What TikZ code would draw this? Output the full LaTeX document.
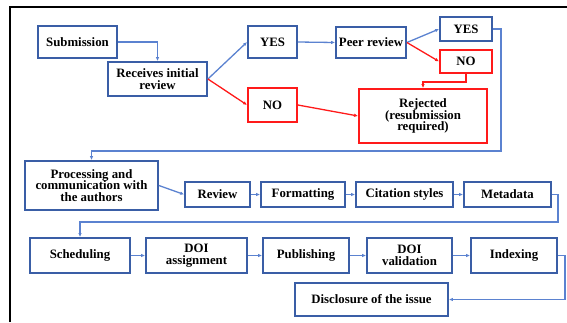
\documentclass[tikz,border=0pt]{standalone}
\usepackage{fontspec}
\setmainfont{Liberation Serif}
\newfontfamily\tnr{Liberation Serif}
\usetikzlibrary{arrows.meta}
\definecolor{boxblue}{HTML}{3A5EA6}
\definecolor{lineblue}{HTML}{5B82D0}
\definecolor{boxred}{HTML}{FF1A1A}
\tikzset{
  bx/.style={draw=boxblue, line width=1.8pt, fill=white, inner sep=1pt, align=center,
    font=\tnr\bfseries\fontsize{12.8}{11.8}\selectfont},
  rbx/.style={bx, draw=boxred},
  bl/.style={draw=lineblue, line width=1.3pt, -{Latex[length=4pt,width=3.5pt]}},
  rl/.style={draw=boxred, line width=1.3pt, -{Latex[length=4pt,width=3.5pt]}},
  sz/.style 2 args={minimum width=#1pt, minimum height=#2pt},
}
\begin{document}
\begin{tikzpicture}[x=1pt,y=-1pt]
\useasboundingbox (0,0) rectangle (567,322);
\draw[black, line width=1.5pt] (10,322) -- (10,7) -- (567,7);
% nodes
\node[bx, sz={79}{32}] (sub) at (77.5,42) {Submission};
\node[bx, sz={99}{34}] (rec) at (157.5,79) {Receives initial\\review};
\node[bx, sz={49}{32}] (yes1) at (272.5,42) {YES};
\node[rbx, sz={49}{34}] (no1) at (272.5,105) {NO};
\node[bx, sz={70}{31}] (peer) at (371,42.5) {Peer review};
\node[bx, sz={52}{24}] (yes2) at (466,29) {YES};
\node[rbx, sz={52}{23}] (no2) at (466,61.5) {NO};
\node[rbx, sz={128}{54}] (rej) at (423,116) {Rejected\\(resubmission\\required)};
\node[bx, sz={133}{49}] (proc) at (91.5,185.5) {Processing and\\communication with\\the authors};
\node[bx, sz={65}{25}] (rev) at (217.5,194.5) {Review};
\node[bx, sz={84}{25}] (fmt) at (303,194.5) {Formatting};
\node[bx, sz={97}{25}] (cit) at (404.5,194.5) {Citation styles};
\node[bx, sz={87}{25}] (meta) at (507.5,194.5) {Metadata};
\node[bx, sz={100}{35}] (sched) at (80,255.5) {Scheduling};
\node[bx, sz={101}{35}] (doia) at (196.5,255.5) {DOI\\assignment};
\node[bx, sz={86}{35}] (pub) at (306,255.5) {Publishing};
\node[bx, sz={85}{35}] (doiv) at (409.5,255.5) {DOI\\validation};
\node[bx, sz={86}{35}] (idx) at (514,255.5) {Indexing};
\node[bx, sz={153}{33}] (disc) at (371.5,299.5) {Disclosure of the issue};
% free-end coordinates
\coordinate (c1) at (501,151);
\coordinate (c2) at (558,222);
\coordinate (c3) at (565,299.5);
% connectors
\draw[bl] (sub.east) -| (rec.north);
\draw[bl] (rec.east) -- (yes1.west);
\draw[rl] (rec.east) -- (no1.west);
\draw[bl] (yes1.east) -- (peer.west);
\draw[bl] (peer.east) -- (yes2.west);
\draw[rl] (peer.east) -- (no2.west);
\draw[rl] (no2.south) -- ++(0,8) -| (rej.north);
\draw[rl] (no1.east) -- (rej.west);
\draw[bl] (yes2.east) -| (c1) -| (proc.north);
\draw[bl] (proc.east) -- (rev.west);
\draw[bl] (rev) -- (fmt);
\draw[bl] (fmt) -- (cit);
\draw[bl] (cit) -- (meta);
\draw[bl] (meta.east) -| (c2) -| (sched.north);
\draw[bl] (sched) -- (doia);
\draw[bl] (doia) -- (pub);
\draw[bl] (pub) -- (doiv);
\draw[bl] (doiv) -- (idx);
\draw[bl] (idx.east) -| (c3) -- (disc.east);
\end{tikzpicture}
\end{document}
